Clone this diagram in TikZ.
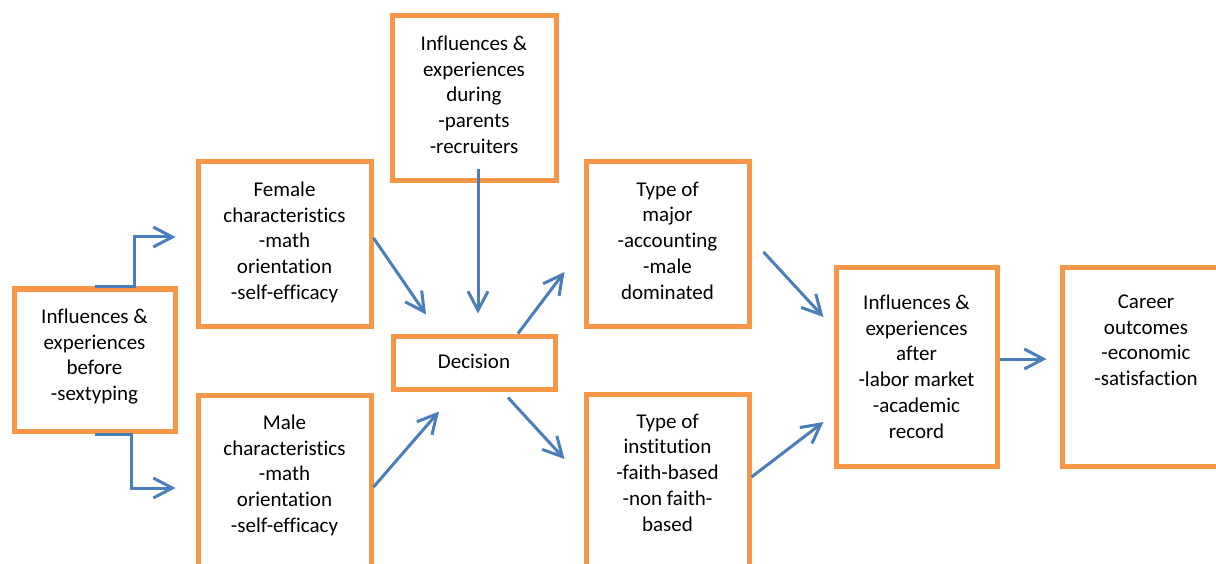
\documentclass[tikz,border=0pt]{standalone}
\usepackage{fontspec}
\setmainfont[Ligatures=NoCommon]{Carlito}
\usepackage{tikz}
\usetikzlibrary{positioning, arrows.meta}
\definecolor{boxLine}{RGB}{247, 150, 70}
\definecolor{arrowColor}{RGB}{74, 126, 187}
\tikzset{
    flow_box/.style={
        rectangle,
        draw=boxLine,
        line width=5pt,
        fill=white
    },
    box_text/.style={
        inner sep=0pt,
        align=center,
        text=black,
        font=\fontsize{21}{25.8}\selectfont
    },
    flow_edge/.style={
        -{Straight Barb[length=19pt, width=20pt]},
        line width=3pt,
        draw=arrowColor
    }
}

\begin{document}
\begin{tikzpicture}[x=1pt, y=-1pt]
    \useasboundingbox (0,0) rectangle (1216,564);

    % boxes
    \node[flow_box, minimum width=161pt, minimum height=142.5pt] (before) at (94.5,360.25) {};
    \node[flow_box, minimum width=173pt, minimum height=164pt] (female) at (284.5,244) {};
    \node[flow_box, minimum width=173pt, minimum height=205pt] (male) at (284.5,497.5) {};
    \node[flow_box, minimum width=164pt, minimum height=165pt] (during) at (474,98.5) {};
    \node[flow_box, minimum width=162pt, minimum height=53pt] (decision) at (474,362.5) {};
    \node[flow_box, minimum width=163pt, minimum height=164pt] (major) at (667.5,244) {};
    \node[flow_box, minimum width=163pt, minimum height=206pt] (institution) at (667.5,497) {};
    \node[flow_box, minimum width=161pt, minimum height=198pt] (after) at (916.5,367) {};
    \node[flow_box, minimum width=168pt, minimum height=198pt] (career) at (1146,367) {};

    % texts
    \node[box_text, below=22pt of before.north] (before_text)
        {Influences \&\\experiences\\before\\-sextyping};
    \node[box_text, below=22pt of female.north] (female_text)
        {Female\\characteristics\\-math\\orientation\\-self-efficacy};
    \node[box_text, below=22pt of male.north] (male_text)
        {Male\\characteristics\\-math\\orientation\\-self-efficacy};
    \node[box_text, below=22pt of during.north] (during_text)
        {Influences \&\\experiences\\during\\-parents\\-recruiters};
    \node[box_text, below=20pt of decision.north] (decision_text) {Decision};
    \node[box_text, below=22pt of major.north] (major_text)
        {Type of\\major\\-accounting\\-male\\dominated};
    \node[box_text, below=22pt of institution.north] (institution_text)
        {Type of\\institution\\-faith-based\\-non faith-\\based};
    \node[box_text, below=29pt of after.north] (after_text)
        {Influences \&\\experiences\\after\\-labor market\\-academic\\record};
    \node[box_text, below=29pt of career.north] (career_text)
        {Career\\outcomes\\-economic\\-satisfaction};

    % connectors
    \draw[flow_edge] (before.north) -- ++(40,0) |- ([xshift=-20pt, yshift=7pt]female.west);
    \draw[flow_edge] (before.south) -- ++(37,0) |- ([xshift=-20pt, yshift=9.5pt]male.west);
    \draw[flow_edge] ([yshift=6pt]female.east) -- ([xshift=-48pt, yshift=19pt]decision.north);
    \draw[flow_edge] ([yshift=10.5pt]male.east) -- ([xshift=-35pt, yshift=-20pt]decision.south);
    \draw[flow_edge] ([xshift=4pt, yshift=14pt]during.south) -- ([xshift=4pt, yshift=20pt]decision.north);
    \draw[flow_edge] ([xshift=44pt]decision.north) -- ([xshift=-19pt, yshift=-28pt]major.west);
    \draw[flow_edge] ([xshift=34pt, yshift=-6pt]decision.south) -- ([xshift=-19pt, yshift=38pt]institution.west);
    \draw[flow_edge] ([xshift=12pt, yshift=-8pt]major.east) -- ([xshift=-10pt, yshift=50pt]after.west);
    \draw[flow_edge] ([yshift=20pt]institution.east) -- ([xshift=-10pt, yshift=-55pt]after.west);
    \draw[flow_edge] ([yshift=8pt]after.east) -- ([xshift=-13pt, yshift=8pt]career.west);
\end{tikzpicture}
\end{document}
